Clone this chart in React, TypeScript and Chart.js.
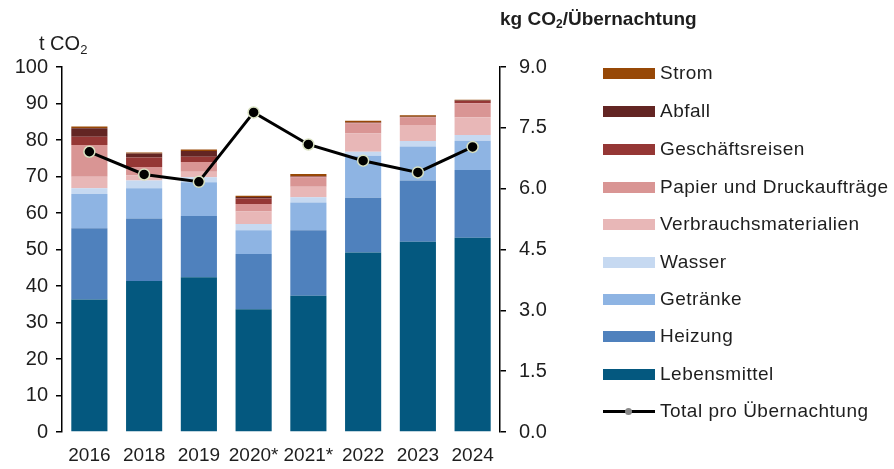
import React, { useEffect, useRef } from "react";
import { Chart, registerables } from "chart.js";

Chart.register(...registerables);

const categories = ["2016", "2018", "2019", "2020*", "2021*", "2022", "2023", "2024"];
const lebensmittel = [36.3, 41.4, 42.4, 33.6, 37.3, 49.2, 52.1, 53.2];
const heizung = [19.5, 17.1, 16.8, 15.2, 18.0, 15.0, 16.8, 18.6];
const getraenke = [9.4, 8.3, 9.2, 6.5, 7.6, 11.5, 9.3, 8.0];
const wasser = [1.6, 2.1, 1.4, 1.7, 1.4, 1.1, 1.5, 1.6];
const verbrauch = [3.1, 1.4, 1.5, 3.4, 2.9, 5.0, 4.4, 4.8];
const papier = [8.7, 2.3, 2.7, 2.1, 2.6, 2.8, 2.1, 3.9];
const geschaeftsreisen = [2.3, 2.6, 1.4, 1.5, 0.2, 0.1, 0.1, 0.6];
const abfall = [2.3, 1.1, 1.6, 0.4, 0.1, 0.1, 0.1, 0.1];
const strom = [0.5, 0.3, 0.4, 0.3, 0.6, 0.5, 0.4, 0.2];
const totalProUebernachtung = [6.91, 6.35, 6.17, 7.88, 7.09, 6.69, 6.40, 7.03];

const leftTicks = [0, 10, 20, 30, 40, 50, 60, 70, 80, 90, 100];
const rightTicks = [0, 1.5, 3, 4.5, 6, 7.5, 9];

const barSeries = [
  { label: "Lebensmittel", data: lebensmittel, color: "#04587f" },
  { label: "Heizung", data: heizung, color: "#4f81bd" },
  { label: "Getränke", data: getraenke, color: "#8eb4e3" },
  { label: "Wasser", data: wasser, color: "#c6d9f1" },
  { label: "Verbrauchsmaterialien", data: verbrauch, color: "#e8b7b7" },
  { label: "Papier und Druckaufträge", data: papier, color: "#d99594" },
  { label: "Geschäftsreisen", data: geschaeftsreisen, color: "#953735" },
  { label: "Abfall", data: abfall, color: "#632523" },
  { label: "Strom", data: strom, color: "#974806" },
];

const FONT = "'Liberation Sans', Arial, sans-serif";
const TEXT = "#1e1e1e";

export default function App() {
  const ref = useRef<HTMLCanvasElement | null>(null);

  useEffect(() => {
    document.body.style.margin = "0";
    const ctx = ref.current!.getContext("2d")!;
    const chart = new Chart(ctx, {
      type: "bar",
      data: {
        labels: categories,
        datasets: [
          {
            type: "line",
            label: "Total pro Übernachtung",
            data: totalProUebernachtung,
            yAxisID: "y1",
            borderColor: "#000",
            borderWidth: 3,
            pointRadius: 5.5,
            pointBackgroundColor: "#000",
            pointBorderColor: "#d8e0c0",
            pointBorderWidth: 1.5,
            order: 0,
            tension: 0,
          } as any,
          ...barSeries.map((s) => ({
            type: "bar" as const,
            label: s.label,
            data: s.data,
            backgroundColor: s.color,
            borderWidth: 0,
            yAxisID: "y",
            stack: "s",
            order: 1,
            barPercentage: 0.66,
            categoryPercentage: 1,
          })),
        ],
      },
      options: {
        animation: false,
        responsive: false,
        maintainAspectRatio: false,
        layout: { padding: { left: 0, right: 334, top: 67, bottom: 0 } },
        plugins: { legend: { display: false }, tooltip: { enabled: false } },
        scales: {
          x: {
            stacked: true,
            grid: { display: false, drawTicks: false, tickLength: 0 },
            border: { display: false },
            ticks: { color: TEXT, font: { family: FONT, size: 19 }, padding: 12, maxRotation: 0, autoSkip: false },
            afterFit: (s: any) => { s.height = 37; },
          },
          y: {
            position: "left",
            stacked: true,
            min: 0,
            max: 100,
            afterBuildTicks: (s: any) => { s.ticks = leftTicks.map((v) => ({ value: v })); },
            grid: { drawOnChartArea: false, drawTicks: true, tickLength: 6, color: "#000", lineWidth: 1.5 },
            border: { display: true, color: "#000", width: 1.5 },
            ticks: { color: TEXT, font: { family: FONT, size: 20 }, padding: 8 },
            afterFit: (s: any) => { s.width = 62; },
          },
          y1: {
            position: "right",
            min: 0,
            max: 9,
            afterBuildTicks: (s: any) => { s.ticks = rightTicks.map((v) => ({ value: v })); },
            grid: { drawOnChartArea: false, drawTicks: true, tickLength: 6, color: "#000", lineWidth: 1.5 },
            border: { display: true, color: "#000", width: 1.5 },
            ticks: {
              color: TEXT,
              font: { family: FONT, size: 20 },
              padding: 13,
              callback: (v: any) => Number(v).toFixed(1),
            },
            afterFit: (s: any) => { s.width = 60; },
          },
        },
      },
    });
    return () => chart.destroy();
  }, []);

  const legendItems = [...barSeries].reverse();
  const legendTop = [73, 111, 149, 187, 224, 262, 299, 336, 374];

  return (
    <div style={{ position: "absolute", left: 0, top: 0, width: 894, height: 469, background: "#fff", fontFamily: FONT, color: TEXT }}>
      <canvas ref={ref} width={894} height={469} style={{ position: "absolute", left: 0, top: 0 }} />
      <div style={{ position: "absolute", left: 39, top: 32, fontSize: 20, lineHeight: "22px", whiteSpace: "nowrap" }}>
        t CO<sub style={{ fontSize: 13, verticalAlign: "-4px" }}>2</sub>
      </div>
      <div style={{ position: "absolute", left: 500, top: 8, fontSize: 19, lineHeight: "22px", whiteSpace: "nowrap", fontWeight: "bold" }}>
        kg CO<sub style={{ fontSize: 12, verticalAlign: "-3px" }}>2</sub>/Übernachtung
      </div>
      {legendItems.map((s, i) => (
        <div key={s.label} style={{ position: "absolute", left: 603, top: legendTop[i] - 11, height: 22, display: "flex", alignItems: "center", whiteSpace: "nowrap" }}>
          <span style={{ display: "inline-block", width: 52, height: 11, background: s.color, marginRight: 5 }} />
          <span style={{ fontSize: 19, letterSpacing: "0.5px" }}>{s.label}</span>
        </div>
      ))}
      <div style={{ position: "absolute", left: 603, top: 411 - 11, height: 22, display: "flex", alignItems: "center", whiteSpace: "nowrap" }}>
        <span style={{ position: "relative", display: "inline-block", width: 52, height: 11, marginRight: 5 }}>
          <span style={{ position: "absolute", left: 0, top: 4, width: 52, height: 3, background: "#000" }} />
          <span style={{ position: "absolute", left: 22, top: 2, width: 7, height: 7, borderRadius: "50%", background: "#888" }} />
        </span>
        <span style={{ fontSize: 19, letterSpacing: "0.5px" }}>Total pro Übernachtung</span>
      </div>
    </div>
  );
}
